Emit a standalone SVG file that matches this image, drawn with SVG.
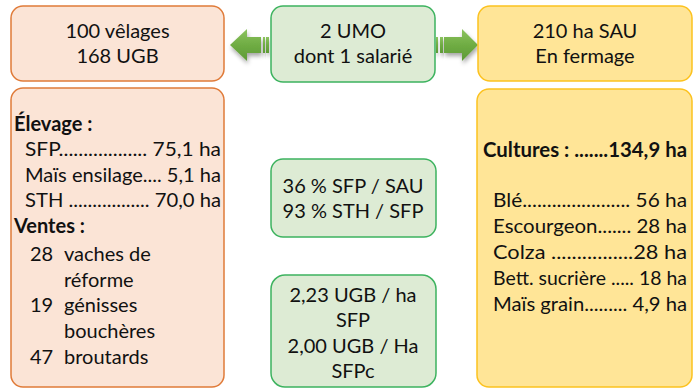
<svg xmlns="http://www.w3.org/2000/svg" width="696" height="390" viewBox="0 0 696 390">
<defs>
<style>
.t{font-family:Lato,"Open Sans","Liberation Sans",sans-serif;font-size:20px;fill:#111}
.c{text-anchor:middle}
.b{font-weight:bold}
.or{fill:#FBE4D6;stroke:#E07B39;stroke-width:1.5}
.gr{fill:#DDEBD4;stroke:#3DB35F;stroke-width:1.5}
.ye{fill:#FFE597;stroke:#FCC21F;stroke-width:1.5}
.arr{fill:url(#ag);filter:url(#sh)}
</style>
<linearGradient id="ag" x1="0" y1="0" x2="0" y2="1">
<stop offset="0" stop-color="#8CC35F"/>
<stop offset="0.5" stop-color="#6FAC43"/>
<stop offset="1" stop-color="#5E9A36"/>
</linearGradient>
<filter id="sh" x="-30%" y="-30%" width="160%" height="180%">
<feDropShadow dx="1" dy="3" stdDeviation="2" flood-color="#000" flood-opacity="0.35"/>
</filter>
</defs>
<g id="connectors">
<path class="arr" d="M230,45 L247,29 L247,37 L261,37 L261,53 L247,53 L247,61 Z"/>
<rect class="arr" x="263" y="37" width="2" height="16"/>
<rect class="arr" x="266" y="37" width="3" height="16"/>
<path class="arr" d="M478,45 L462,29 L462,37 L444,37 L444,53 L462,53 L462,61 Z"/>
<rect class="arr" x="440" y="37" width="3" height="16"/>
<rect class="arr" x="436" y="37" width="2" height="16"/>
</g>
<g id="velages">
<rect class="or" x="11" y="6" width="213" height="75" rx="12"/>
<text class="t c" x="117.5" y="38">100 vêlages</text>
<text class="t c" x="117.5" y="63">168 UGB</text>
</g>
<g id="umo">
<rect class="gr" x="271" y="6" width="164" height="76" rx="12"/>
<text class="t c" x="353" y="38">2 UMO</text>
<text class="t c" x="353" y="63">dont 1 salarié</text>
</g>
<g id="sau">
<rect class="ye" x="478" y="6" width="214" height="75" rx="12"/>
<text class="t c" x="585" y="38">210 ha SAU</text>
<text class="t c" x="585" y="63">En fermage</text>
</g>
<g id="elevage">
<rect class="or" x="11" y="88" width="213" height="299" rx="12"/>
<text class="t b" x="14" y="131">Élevage :</text>
<text class="t" x="25" y="156" textLength="196" lengthAdjust="spacingAndGlyphs">SFP.................. 75,1 ha</text>
<text class="t" x="25" y="181.5" textLength="196" lengthAdjust="spacingAndGlyphs">Maïs ensilage.... 5,1 ha</text>
<text class="t" x="25" y="207" textLength="196" lengthAdjust="spacingAndGlyphs">STH ................. 70,0 ha</text>
<text class="t b" x="14" y="232.5">Ventes :</text>
<text class="t" x="30" y="260.5">28</text>
<text class="t" x="64" y="260.5">vaches de</text>
<text class="t" x="64" y="286.5">réforme</text>
<text class="t" x="30" y="312">19</text>
<text class="t" x="64" y="312">génisses</text>
<text class="t" x="64" y="338">bouchères</text>
<text class="t" x="30" y="364">47</text>
<text class="t" x="64" y="364">broutards</text>
</g>
<g id="ratios">
<rect class="gr" x="271" y="159" width="165" height="78" rx="12"/>
<text class="t c" x="353" y="193">36 % SFP / SAU</text>
<text class="t c" x="353" y="218">93 % STH / SFP</text>
</g>
<g id="chargement">
<rect class="gr" x="271" y="275" width="165" height="112" rx="14"/>
<text class="t c" x="353" y="302">2,23 UGB / ha</text>
<text class="t c" x="353" y="327">SFP</text>
<text class="t c" x="353" y="353">2,00 UGB / Ha</text>
<text class="t c" x="353" y="378">SFPc</text>
</g>
<g id="cultures">
<rect class="ye" x="477" y="89" width="215" height="298" rx="12"/>
<text class="t b" x="483" y="157" textLength="204" lengthAdjust="spacingAndGlyphs">Cultures : .......134,9 ha</text>
<text class="t" x="493" y="207" textLength="194" lengthAdjust="spacingAndGlyphs">Blé...................... 56 ha</text>
<text class="t" x="493" y="233" textLength="194" lengthAdjust="spacingAndGlyphs">Escourgeon....... 28 ha</text>
<text class="t" x="493" y="259" textLength="194" lengthAdjust="spacingAndGlyphs">Colza ................28 ha</text>
<text class="t" x="493" y="285" textLength="194" lengthAdjust="spacingAndGlyphs">Bett. sucrière ..... 18 ha</text>
<text class="t" x="493" y="311" textLength="194" lengthAdjust="spacingAndGlyphs">Maïs grain......... 4,9 ha</text>
</g>
</svg>
